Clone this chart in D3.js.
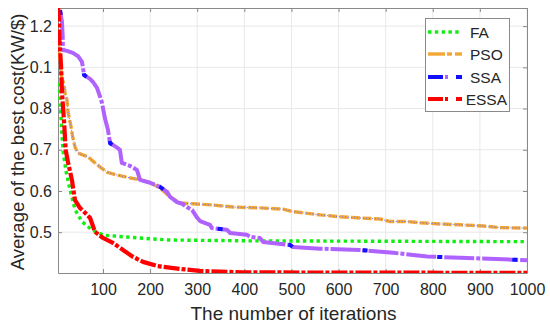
<!DOCTYPE html>
<html>
<head>
<meta charset="utf-8">
<script src="https://cdn.jsdelivr.net/npm/d3@7"></script>
<style>
  body { margin: 0; background: #fff; }
  svg { display: block; font-family: "Liberation Sans", Arial, sans-serif; }
</style>
</head>
<body>
<div id="chart"></div>
<script>
// data: [iteration, value]
const FA = [[4.5,0.862],[8.7,0.820],[12.4,0.748],[15,0.700],[21,0.651],[30,0.603],[40.6,0.555],[55,0.526],[76,0.506],[100,0.493],[142,0.489],[200,0.484],[242,0.481],[412,0.479],[1000,0.477]];
const PSO = [[4.5,0.993],[5.6,0.954],[8.7,0.913],[12.4,0.876],[17.2,0.857],[19.4,0.838],[23.6,0.820],[25.7,0.792],[31.5,0.760],[35.7,0.731],[40.6,0.707],[47,0.692],[68,0.683],[76,0.675],[94,0.658],[108,0.646],[129,0.639],[157,0.632],[178.6,0.627],[200,0.620],[221,0.607],[242,0.586],[263,0.571],[291,0.569],[333,0.566],[376,0.561],[433,0.559],[482,0.556],[503,0.550],[525,0.547],[561,0.542],[597,0.538],[639,0.535],[688,0.532],[709,0.526],[745,0.526],[773,0.523],[815,0.520],[858,0.518],[907,0.515],[943,0.511],[1000,0.510]];
const SSA = [[8.7,1.039],[13,1.010],[14.5,0.974],[15,0.942],[23.6,0.940],[36,0.935],[47,0.927],[55.4,0.913],[60,0.881],[72.4,0.872],[79,0.864],[87.3,0.850],[94,0.828],[98,0.813],[104,0.777],[110.6,0.748],[115,0.716],[127.6,0.707],[136,0.700],[140,0.668],[157,0.661],[172,0.651],[178.6,0.627],[200,0.620],[221,0.610],[236,0.598],[242,0.586],[257,0.573],[268,0.569],[278,0.561],[289,0.554],[300,0.535],[306,0.527],[327,0.518],[331,0.510],[363,0.506],[370,0.498],[405,0.494],[412,0.489],[433,0.486],[440,0.476],[497,0.469],[503,0.464],[561,0.460],[645,0.457],[716,0.450],[788,0.441],[858,0.438],[1000,0.432]];
const ESSA = [[4.5,1.050],[6.6,1.015],[7.7,0.966],[10.9,0.905],[13,0.838],[17.2,0.772],[20.8,0.700],[25.7,0.670],[34,0.627],[40.6,0.578],[51,0.559],[62,0.547],[72.4,0.535],[83,0.501],[100,0.486],[121,0.474],[142.5,0.457],[164,0.440],[185,0.428],[215,0.418],[263,0.411],[306,0.406],[397,0.4025],[1000,0.4013]];

const xTicks = [100,200,300,400,500,600,700,800,900,1000];
const yTicks = [0.5,0.6,0.7,0.8,0.9,1.0];
const yTickLabels = ['0.5','0.6','0.7','0.8','0.1','1.2'];
const seriesNames = ['FA','PSO','SSA','ESSA'];

const W = 550, H = 324;
const M = {left:58, right:23, top:8, bottom:51};

const svg = d3.select('#chart').append('svg').attr('width',W).attr('height',H);

const x = d3.scaleLinear().domain([4.5,1000]).range([M.left, W - M.right]);
const y = d3.scaleLinear().domain([0.401,1.044]).range([H - M.bottom, M.top]);

//grid
svg.append('g').selectAll('line').data(xTicks).join('line')
  .attr('x1',d=>x(d)).attr('x2',d=>x(d)).attr('y1',M.top).attr('y2',H-M.bottom)
  .attr('stroke','#e8e8e8').attr('stroke-width',1);
svg.append('g').selectAll('line').data(yTicks).join('line')
  .attr('x1',M.left).attr('x2',W-M.right).attr('y1',d=>y(d)).attr('y2',d=>y(d))
  .attr('stroke','#e8e8e8').attr('stroke-width',1);

//axes (matlab style, ticks inward)
const xAxis = d3.axisBottom(x).tickValues(xTicks).tickFormat(d3.format('d')).tickSize(-4).tickSizeOuter(0).tickPadding(11);
const yAxis = d3.axisLeft(y).tickValues(yTicks).tickFormat((d,i)=>yTickLabels[i]).tickSize(-4).tickSizeOuter(0).tickPadding(6);
const xTop = d3.axisTop(x).tickValues(xTicks).tickSize(-4).tickSizeOuter(0).tickFormat('');
const yRight = d3.axisRight(y).tickValues(yTicks).tickSize(-4).tickSizeOuter(0).tickFormat('');

function styleAxis(g){
  g.select('.domain').attr('stroke','#8a8a8a');
  g.selectAll('.tick line').attr('stroke','#8a8a8a');
  g.selectAll('.tick text').attr('fill','#262626').style('font-size','16px').style('font-family','"Liberation Sans", Arial, sans-serif');
}
svg.append('g').attr('transform','translate(0,'+(H-M.bottom)+')').call(xAxis).call(styleAxis);
svg.append('g').attr('transform','translate('+M.left+',0)').call(yAxis).call(styleAxis);
svg.append('g').attr('transform','translate(0,'+M.top+')').call(xTop).call(styleAxis);
svg.append('g').attr('transform','translate('+(W-M.right)+',0)').call(yRight).call(styleAxis);

//clip
svg.append('clipPath').attr('id','clip').append('rect')
  .attr('x',M.left).attr('y',M.top).attr('width',W-M.left-M.right).attr('height',H-M.top-M.bottom);

const line = d3.line().x(d=>x(d[0])).y(d=>y(d[1]));
const plot = svg.append('g').attr('clip-path','url(#clip)');

function drawLine(data,color,width,dash){
  plot.append('path').datum(data).attr('d',line)
    .attr('fill','none').attr('stroke',color).attr('stroke-width',width)
    .attr('stroke-dasharray',dash).attr('stroke-linejoin','round');
}

//FA
drawLine(FA,'#11ee11',3.4,'3.4,3.4');
//PSO
drawLine(PSO,'#f2a736',3.4,'9,2.5');
drawLine(PSO,'#6b6bff',1,'1,2');
//SSA
drawLine(SSA,'#b062ff',4,'30,2,4,2');
drawLine(SSA,'#1010ff',4,'5,70');
//ESSA
drawLine(ESSA,'#ff0000',4.2,'16,2,4,2');

//axis labels
svg.append('text').attr('x',(M.left+W-M.right)/2 + 1).attr('y',320)
  .attr('text-anchor','middle').attr('fill','#262626').style('font-size','19px')
  .text('The number of iterations');
svg.append('text').attr('transform','translate(24,142) rotate(-90)')
  .attr('text-anchor','middle').attr('fill','#262626').style('font-size','18.5px')
  .text('Average of the best cost(KW/$)');

//legend
const legend = svg.append('g');
legend.append('rect').attr('x',425.5).attr('y',18.5).attr('width',84).attr('height',93)
  .attr('fill','#fff').attr('stroke','#8a8a8a').attr('stroke-width',1);

const ly = [32,54,77,99];
const seg = (x1,x2,yy,color,w)=>legend.append('line').attr('x1',x1).attr('x2',x2).attr('y1',yy).attr('y2',yy)
  .attr('stroke',color).attr('stroke-width',w);
//FA
legend.append('line').attr('x1',428).attr('x2',462).attr('y1',ly[0]).attr('y2',ly[0])
  .attr('stroke','#11ee11').attr('stroke-width',3.4).attr('stroke-dasharray','3.4,3.4');
//PSO
seg(428,445,ly[1],'#f2a736',3.4); seg(447,452,ly[1],'#f2a736',3.4); seg(455,462,ly[1],'#f2a736',3.4);
//SSA
seg(428,443,ly[2],'#1010ff',4); seg(445,448,ly[2],'#b062ff',4); seg(456,462,ly[2],'#1010ff',4);
//ESSA
seg(428,443,ly[3],'#ff0000',4); seg(445,448,ly[3],'#ff0000',4); seg(456,462,ly[3],'#ff0000',4);

seriesNames.forEach((n,i)=>{
  const t = legend.append('text').attr('x',470).attr('y',ly[i]+5.5)
    .attr('fill','#262626').style('font-size','15.5px').text(n);
  const w = t.node().getComputedTextLength();
  if(470 + w > 507) t.attr('x',507 - w);
});
</script>
</body>
</html>
